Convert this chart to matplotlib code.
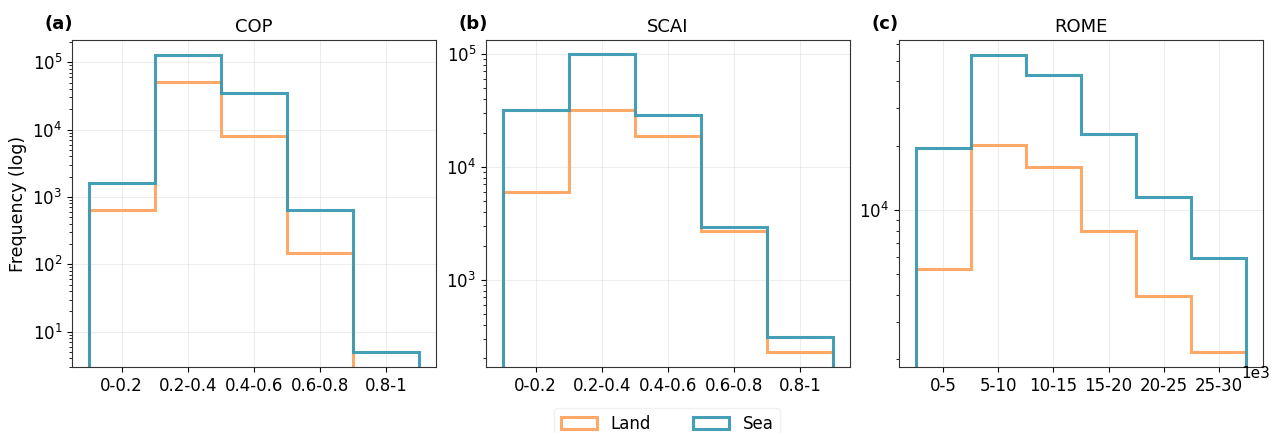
import numpy as np
import matplotlib
matplotlib.use('Agg')
import matplotlib.pyplot as plt

# Bin edges and labels
cop_edges = [0.0, 0.2, 0.4, 0.6, 0.8, 1.0]
cop_labels = ['0-0.2', '0.2-0.4', '0.4-0.6', '0.6-0.8', '0.8-1']
scai_edges = [0.0, 0.2, 0.4, 0.6, 0.8, 1.0]
scai_labels = ['0-0.2', '0.2-0.4', '0.4-0.6', '0.6-0.8', '0.8-1']
rome_edges = [0, 5000, 10000, 15000, 20000, 25000, 30000]
rome_labels = ['0-5', '5-10', '10-15', '15-20', '20-25', '25-30']

# Counts
cop_land = [650, 51000, 8100, 148, 1]
cop_sea = [1630, 126000, 35300, 640, 5]
scai_land = [5950, 31900, 18600, 2720, 229]
scai_sea = [31700, 99300, 29000, 2950, 313]
rome_land = [5270, 20100, 15900, 7970, 3950, 2160]
rome_sea = [19600, 53300, 42900, 22600, 11500, 5960]

LAND_COLOR = '#ffa057'
SEA_COLOR = '#3b9ab2'

panels = [
    ('(a)', 'COP', cop_edges, cop_labels, cop_land, cop_sea, (2.96, 2.14e5)),
    ('(b)', 'SCAI', scai_edges, scai_labels, scai_land, scai_sea, (167, 1.33e5)),
    ('(c)', 'ROME', rome_edges, rome_labels, rome_land, rome_sea, (1835, 62500)),
]

fig = plt.figure(figsize=(12.72, 4.33), dpi=100)
lefts = [72, 486, 899]
axes = []
for left in lefts:
    ax = fig.add_axes([left / 1272, 1 - 367.3 / 433, 364 / 1272, (367.3 - 40) / 433])
    axes.append(ax)

for ax, (tag, title, edges, labels, land, sea, ylim) in zip(axes, panels):
    edges = np.array(edges, dtype=float)
    centers = (edges[:-1] + edges[1:]) / 2
    ax.hist(centers, bins=edges, weights=land, histtype='step', log=True,
            color=LAND_COLOR, linewidth=2.2, alpha=0.9, label='Land')
    ax.hist(centers, bins=edges, weights=sea, histtype='step', log=True,
            color=SEA_COLOR, linewidth=2.2, alpha=0.95, label='Sea')
    ax.set_ylim(*ylim)
    ax.set_xticks(centers)
    ax.set_xticklabels(labels)
    ax.tick_params(axis='both', labelsize=12)
    ax.grid(True, which='major', color='#cccccc', alpha=0.35, linewidth=0.8)
    ax.set_title(title, fontsize=13)
    ax.text(-0.075, 1.02, tag, transform=ax.transAxes, fontsize=13,
            fontweight='bold', ha='left', va='bottom')
    for s in ax.spines.values():
        s.set_color('#333333')

axes[0].set_ylabel('Frequency (log)', fontsize=12.5)
fig.text(1270 / 1272, 1 - 366 / 433, '1e3', fontsize=11, ha='right', va='top')

handles, lbls = axes[0].get_legend_handles_labels()
fig.legend(handles, lbls, loc='upper center', ncol=2, fontsize=12,
           bbox_to_anchor=(667 / 1272, 1 - 400 / 433), frameon=True,
           edgecolor='#eeeeee', handlelength=2.2, columnspacing=2.5)

fig.savefig('out.png', dpi=100)
